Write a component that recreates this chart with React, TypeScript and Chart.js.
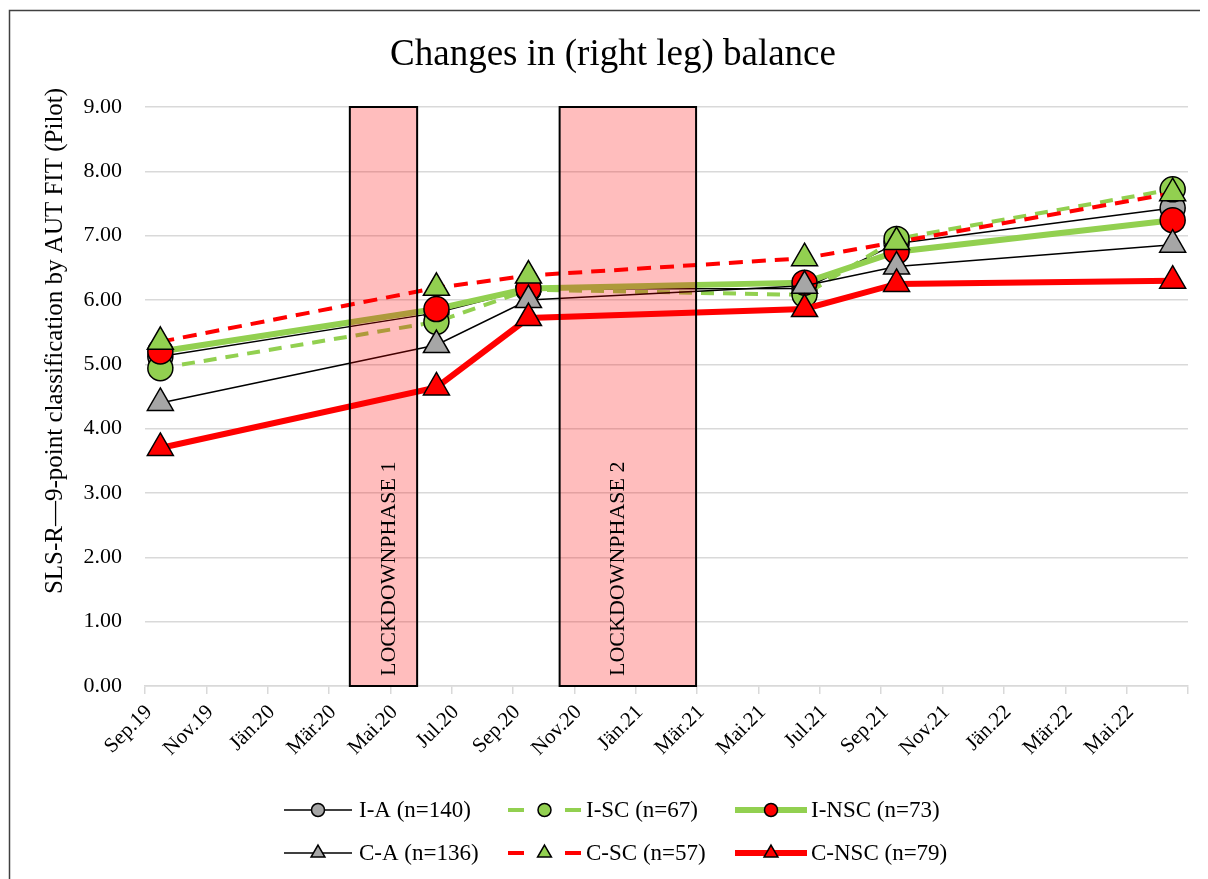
import React, { useEffect, useRef } from 'react';
import { Chart, registerables } from 'chart.js';

Chart.register(...registerables);

// ---------- DATA ----------
const measurementDates = ['2019-09', '2020-06', '2020-09', '2021-06', '2021-09', '2022-06'];
const axisStartYear = 2019;
const axisStartMonth = 9;
const axisMonths = 34;
const tickLabels = [
  'Sep.19', 'Nov.19', 'Jän.20', 'Mär.20', 'Mai.20', 'Jul.20', 'Sep.20', 'Nov.20', 'Jän.21',
  'Mär.21', 'Mai.21', 'Jul.21', 'Sep.21', 'Nov.21', 'Jän.22', 'Mär.22', 'Mai.22',
];
const yTickValues = [0, 1, 2, 3, 4, 5, 6, 7, 8, 9];

const seriesLabels = ['I-A (n=140)', 'I-SC (n=67)', 'I-NSC (n=73)', 'C-A (n=136)', 'C-SC (n=57)', 'C-NSC (n=79)'];
const iA = [5.12, 5.8, 6.17, 6.18, 6.88, 7.43];
const iSC = [4.94, 5.66, 6.16, 6.08, 6.95, 7.72];
const iNSC = [5.2, 5.86, 6.18, 6.27, 6.75, 7.24];
const cA = [4.4, 5.3, 6.0, 6.22, 6.52, 6.86];
const cSC = [5.35, 6.19, 6.38, 6.65, 6.9, 7.66];
const cNSC = [3.7, 4.64, 5.72, 5.86, 6.25, 6.3];

const lockdownLabels = ['LOCKDOWNPHASE 1', 'LOCKDOWNPHASE 2'];
const lockdownStart = ['2020-03-22', '2020-10-17'];
const lockdownEnd = ['2020-05-28', '2021-02-28'];

const titleText = 'Changes in (right leg) balance';
const yTitleText = 'SLS-R—9-point classification by AUT FIT (Pilot)';

// ---------- HELPERS ----------
function monthIndex(s: string): number {
  const parts = s.split('-').map(Number);
  const y = parts[0];
  const m = parts[1];
  let idx = (y - axisStartYear) * 12 + (m - axisStartMonth);
  if (parts.length > 2) {
    const dim = new Date(y, m, 0).getDate();
    idx += (parts[2] - 1) / dim;
  } else {
    idx += 0.5;
  }
  return idx;
}

const FONT = "'Liberation Serif', 'Times New Roman', serif";
const GREEN = '#92D050';
const RED = '#FF0000';
const GRAY = '#A6A6A6';

type Style = {
  color: string;
  width: number;
  dash: number[];
  marker: 'circle' | 'triangle';
  fill: string;
  radius: number;
};

const styles: Style[] = [
  { color: '#000000', width: 1.5, dash: [], marker: 'circle', fill: GRAY, radius: 12.5 },
  { color: GREEN, width: 4, dash: [13, 9], marker: 'circle', fill: GREEN, radius: 12.5 },
  { color: GREEN, width: 6, dash: [], marker: 'circle', fill: RED, radius: 12.5 },
  { color: '#000000', width: 1.5, dash: [], marker: 'triangle', fill: GRAY, radius: 15 },
  { color: RED, width: 4, dash: [14, 9], marker: 'triangle', fill: GREEN, radius: 15 },
  { color: RED, width: 6, dash: [], marker: 'triangle', fill: RED, radius: 15 },
];

const seriesValues = [iA, iSC, iNSC, cA, cSC, cNSC];

const W = 1200;
const H = 871;
const lockdownTextShift = [6, -10];

const overlayPlugin = {
  id: 'overlay',
  afterDatasetsDraw(chart: any) {
    const { ctx, scales } = chart;
    const xs = scales.x;
    const ys = scales.y;
    ctx.save();
    for (let i = 0; i < lockdownLabels.length; i++) {
      const x1 = xs.getPixelForValue(monthIndex(lockdownStart[i]));
      const x2 = xs.getPixelForValue(monthIndex(lockdownEnd[i]));
      const y1 = ys.getPixelForValue(9);
      const y2 = ys.getPixelForValue(0);
      ctx.fillStyle = 'rgba(255, 0, 0, 0.26)';
      ctx.fillRect(x1, y1, x2 - x1, y2 - y1);
      ctx.strokeStyle = '#000';
      ctx.lineWidth = 2;
      ctx.strokeRect(x1, y1, x2 - x1, y2 - y1);
      ctx.save();
      ctx.translate((x1 + x2) / 2 + lockdownTextShift[i], y2 - 10);
      ctx.rotate(-Math.PI / 2);
      ctx.fillStyle = '#000';
      ctx.font = `22px ${FONT}`;
      ctx.textAlign = 'left';
      ctx.textBaseline = 'middle';
      ctx.fillText(lockdownLabels[i], 0, 0);
      ctx.restore();
    }
    ctx.restore();
  },
  afterDraw(chart: any) {
    const { ctx } = chart;
    ctx.save();
    // frame (left and top edges; the rest lies outside the picture)
    ctx.strokeStyle = '#404040';
    ctx.lineWidth = 1.5;
    ctx.beginPath();
    ctx.moveTo(1.5, H + 5);
    ctx.lineTo(1.5, 2.5);
    ctx.lineTo(W + 5, 2.5);
    ctx.stroke();

    // title
    ctx.fillStyle = '#000';
    ctx.font = `37px ${FONT}`;
    ctx.textAlign = 'center';
    ctx.textBaseline = 'middle';
    ctx.fillText(titleText, 605, 47.5);

    // y title
    ctx.save();
    ctx.translate(47, 333);
    ctx.rotate(-Math.PI / 2);
    ctx.fillStyle = '#000';
    ctx.font = `25px ${FONT}`;
    ctx.textAlign = 'center';
    ctx.textBaseline = 'middle';
    ctx.fillText(yTitleText, 0, 0);
    ctx.restore();

    // legend
    const rowsY = [802, 845];
    const lineStart = [276, 500, 727];
    const lineEnd = [344, 573, 799];
    const textX = [351, 578, 803];
    for (let i = 0; i < seriesLabels.length; i++) {
      const st = styles[i];
      const row = Math.floor(i / 3);
      const col = i % 3;
      const y = rowsY[row];
      const xa = lineStart[col];
      const xb = lineEnd[col];
      ctx.strokeStyle = st.color;
      ctx.lineWidth = st.width;
      ctx.setLineDash([]);
      ctx.lineCap = 'butt';
      ctx.beginPath();
      if (st.dash.length) {
        ctx.moveTo(xa, y);
        ctx.lineTo(xa + 16, y);
        ctx.moveTo(xb - 16, y);
        ctx.lineTo(xb, y);
      } else {
        ctx.moveTo(xa, y);
        ctx.lineTo(xb, y);
      }
      ctx.stroke();
      const cx = (xa + xb) / 2;
      ctx.fillStyle = st.fill;
      ctx.strokeStyle = '#000';
      ctx.lineWidth = 1.5;
      ctx.beginPath();
      if (st.marker === 'circle') {
        ctx.arc(cx, y, 6.5, 0, Math.PI * 2);
      } else {
        const r = 8;
        ctx.moveTo(cx, y - r);
        ctx.lineTo(cx + r * Math.sin((2 * Math.PI) / 3), y - r * Math.cos((2 * Math.PI) / 3));
        ctx.lineTo(cx + r * Math.sin((4 * Math.PI) / 3), y - r * Math.cos((4 * Math.PI) / 3));
        ctx.closePath();
      }
      ctx.fill();
      ctx.stroke();
      ctx.fillStyle = '#000';
      ctx.font = `23px ${FONT}`;
      ctx.textAlign = 'left';
      ctx.textBaseline = 'middle';
      ctx.fillText(seriesLabels[i], textX[col], y + 1);
    }
    ctx.restore();
  },
};

export default function App() {
  const ref = useRef<HTMLCanvasElement | null>(null);

  useEffect(() => {
    document.documentElement.style.overflow = 'hidden';
    document.body.style.overflow = 'hidden';
    const canvas = ref.current;
    if (!canvas) return;
    const xs = measurementDates.map(monthIndex);
    const orders = [6, 5, 4, 3, 2, 1];
    const datasets = seriesLabels.map((label, i) => {
      const st = styles[i];
      return {
        label,
        data: xs.map((x, j) => ({ x, y: seriesValues[i][j] })),
        borderColor: st.color,
        borderWidth: st.width,
        borderDash: st.dash,
        pointStyle: st.marker,
        pointRadius: st.radius,
        pointHoverRadius: st.radius,
        pointBackgroundColor: st.fill,
        pointBorderColor: '#000',
        pointBorderWidth: 1.5,
        fill: false,
        tension: 0,
        order: orders[i],
        clip: false as any,
      };
    });

    const chart = new Chart(canvas, {
      type: 'line',
      data: { datasets },
      plugins: [overlayPlugin],
      options: {
        responsive: false,
        animation: false,
        devicePixelRatio: 1,
        events: [],
        layout: { padding: { left: 0, right: 20, top: 99, bottom: 0 } },
        plugins: {
          legend: { display: false },
          tooltip: { enabled: false },
          title: { display: false },
        },
        scales: {
          x: {
            type: 'linear',
            min: 0,
            max: axisMonths,
            afterFit: (s: any) => {
              s.height = H - 678;
              s.paddingRight = 0;
              s.paddingLeft = 0;
            },
            afterBuildTicks: (s: any) => {
              const t = [];
              for (let v = 0; v <= axisMonths; v += 2) t.push({ value: v });
              s.ticks = t;
            },
            ticks: {
              autoSkip: false,
              maxRotation: 45,
              minRotation: 45,
              padding: 6,
              labelOffset: 4,
              color: '#000',
              font: { family: FONT, size: 21 },
              callback: (v: any) => tickLabels[Math.round(Number(v) / 2)] ?? '',
            },
            grid: {
              drawOnChartArea: false,
              drawTicks: true,
              tickLength: 8,
              color: '#d9d9d9',
              lineWidth: 1.5,
            },
            border: { color: '#d9d9d9', width: 1.5 },
          },
          y: {
            min: 0,
            max: 9,
            afterFit: (s: any) => {
              s.width = 137;
            },
            afterBuildTicks: (s: any) => {
              s.ticks = yTickValues.map((v) => ({ value: v }));
            },
            ticks: {
              padding: 23,
              color: '#000',
              font: { family: FONT, size: 22 },
              callback: (v: any) => Number(v).toFixed(2),
            },
            grid: { color: '#d9d9d9', lineWidth: 1.5, drawTicks: false },
            border: { display: false },
          },
        },
      },
    });
    return () => chart.destroy();
  }, []);

  return (
    <div style={{ width: W, height: H }}>
      <canvas ref={ref} width={W} height={H} style={{ display: 'block', width: W, height: H }} />
    </div>
  );
}
